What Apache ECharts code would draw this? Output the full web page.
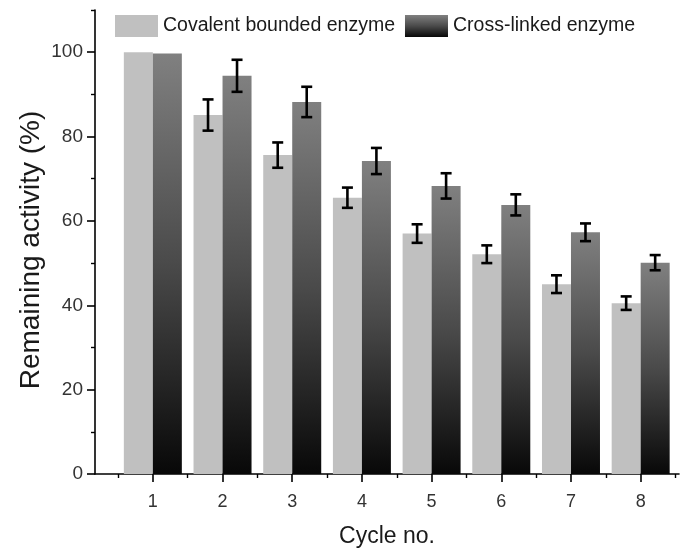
<!DOCTYPE html>
<html>
<head>
<meta charset="utf-8">
<script src="https://cdn.jsdelivr.net/npm/echarts@6/dist/echarts.min.js"></script>
<style>html,body{margin:0;padding:0;background:#fff}#c{width:685px;height:556px}</style>
</head>
<body>
<div id="c"></div>
<script>
// ---- data ----
var cycles = [1, 2, 3, 4, 5, 6, 7, 8];
var covalent = [100, 85.1, 75.6, 65.5, 57.0, 52.1, 45.0, 40.5];
var covalentErr = [0, 3.7, 3.0, 2.4, 2.2, 2.1, 2.1, 1.6];
var crossLinked = [99.7, 94.4, 88.2, 74.2, 68.3, 63.8, 57.3, 50.1];
var crossLinkedErr = [0, 3.8, 3.6, 3.1, 3.0, 2.5, 2.1, 1.8];
var yMajorTicks = [0, 20, 40, 60, 80, 100];
var yMinorTicks = [10, 30, 50, 70, 90, 110];
var xMinorTicks = [0.5, 1.5, 2.5, 3.5, 4.5, 5.5, 6.5, 7.5, 8.5];
var seriesNames = ['Covalent bounded enzyme', 'Cross-linked enzyme'];

// ---- styling ----
var BAR_W = 29;
var FONT = "'Liberation Sans', Arial, sans-serif";
var chart = echarts.init(document.getElementById('c'), null, {renderer: 'canvas'});

function pairs(vals) { return cycles.map(function (c, i) { return [c, vals[i]]; }); }
function errData(vals, errs) {
  return cycles.map(function (c, i) { return [c, vals[i] - errs[i], vals[i] + errs[i]]; })
    .filter(function (d, i) { return errs[i] > 0; });
}
function errSeries(vals, errs, shift) {
  return {
    type: 'custom', xAxisIndex: 0, yAxisIndex: 0, z: 10, silent: true,
    data: errData(vals, errs),
    renderItem: function (params, api) {
      var lo = api.coord([api.value(0), api.value(1)]);
      var hi = api.coord([api.value(0), api.value(2)]);
      var x = lo[0] + shift, cw = 5.5;
      var st = {stroke: '#000', lineWidth: 2.6, fill: null};
      return {type: 'group', children: [
        {type: 'line', shape: {x1: x, y1: lo[1], x2: x, y2: hi[1]}, style: st},
        {type: 'line', shape: {x1: x - cw, y1: lo[1], x2: x + cw, y2: lo[1]}, style: st},
        {type: 'line', shape: {x1: x - cw, y1: hi[1], x2: x + cw, y2: hi[1]}, style: st}
      ]};
    }
  };
}

var darkGrad = new echarts.graphic.LinearGradient(0, 0, 0, 1, [
  {offset: 0, color: '#808080'},
  {offset: 0.5, color: '#4a4a4a'},
  {offset: 1, color: '#080808'}
]);

var axisLineStyle = {color: '#000', width: 1.6};

chart.setOption({
  animation: false,
  backgroundColor: '#fff',
  grid: {left: 95, right: 6, top: 10, bottom: 82, containLabel: false},
  legend: {
    left: 110, top: 10, itemWidth: 43, itemHeight: 22, itemGap: 10,
    icon: 'rect',
    textStyle: {fontSize: 19.5, color: '#1a1a1a', fontFamily: FONT},
    data: seriesNames
  },
  xAxis: [{
    type: 'value', min: 0.17, max: 8.55,
    name: 'Cycle no.', nameLocation: 'middle', nameGap: 51,
    nameTextStyle: {fontSize: 23, color: '#1a1a1a', fontFamily: FONT},
    axisLine: {show: true, lineStyle: axisLineStyle},
    axisTick: {show: true, length: 8, customValues: cycles, lineStyle: {color: '#000', width: 1.6}},
    axisLabel: {margin: 19, customValues: cycles, color: '#333', fontSize: 18, fontFamily: FONT},
    splitLine: {show: false}
  }, {
    type: 'value', min: 0.17, max: 8.55, position: 'bottom',
    axisLine: {show: false},
    axisTick: {show: true, length: 4, customValues: xMinorTicks, lineStyle: {color: '#000', width: 1.4}},
    axisLabel: {show: false},
    splitLine: {show: false}
  }],
  yAxis: [{
    type: 'value', min: 0, max: 110,
    name: 'Remaining activity (%)', nameLocation: 'middle', nameGap: 50, nameMoveOverlap: false,
    nameTextStyle: {fontSize: 28, color: '#1a1a1a', fontFamily: FONT, padding: [0, 16, 0, 0]},
    axisLine: {show: true, lineStyle: axisLineStyle},
    axisTick: {show: true, length: 8, customValues: yMajorTicks, lineStyle: {color: '#000', width: 1.6}},
    axisLabel: {margin: 12, customValues: yMajorTicks, color: '#333', fontSize: 19, fontFamily: FONT},
    splitLine: {show: false}
  }, {
    type: 'value', min: 0, max: 110, position: 'left',
    axisLine: {show: false},
    axisTick: {show: true, length: 4, customValues: yMinorTicks, lineStyle: {color: '#000', width: 1.4}},
    axisLabel: {show: false},
    splitLine: {show: false}
  }],
  series: [{
    name: seriesNames[0], type: 'bar', xAxisIndex: 0, yAxisIndex: 0,
    barWidth: BAR_W, barGap: '0%',
    itemStyle: {color: '#c0c0c0'},
    data: pairs(covalent)
  }, {
    name: seriesNames[1], type: 'bar', xAxisIndex: 0, yAxisIndex: 0,
    barWidth: BAR_W, barGap: '0%',
    itemStyle: {color: darkGrad},
    data: pairs(crossLinked)
  },
  errSeries(covalent, covalentErr, -BAR_W / 2),
  errSeries(crossLinked, crossLinkedErr, BAR_W / 2)
  ]
});
</script>
</body>
</html>
